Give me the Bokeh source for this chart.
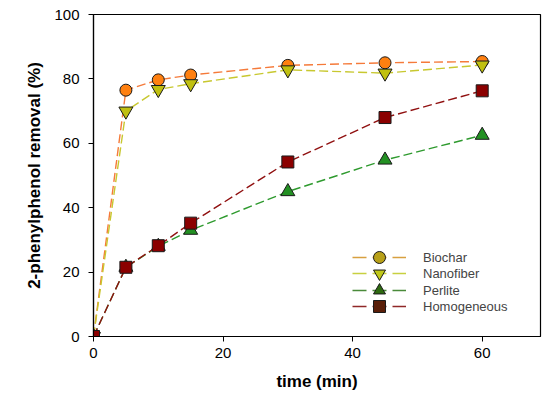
from bokeh.plotting import figure
from bokeh.models import Range1d, FixedTicker, Legend, LegendItem
from bokeh.embed import file_html
from bokeh.resources import INLINE

time = [0, 5, 10, 15, 30, 45, 60]
biochar = [0, 76.5, 79.7, 81.2, 84.2, 85.0, 85.4]
nanofiber = [0, 70.0, 76.7, 78.5, 82.8, 81.8, 84.3]
perlite = [0, 21.5, 28.0, 33.0, 45.0, 54.8, 62.5]
homogeneous = [0, 21.5, 28.2, 35.2, 54.2, 68.0, 76.3]
labels = ["Biochar", "Nanofiber", "Perlite", "Homogeneous"]
x_ticks = [0, 20, 40, 60]
y_ticks = [0, 20, 40, 60, 80, 100]

FONT = "Liberation Sans"
NAN = float("nan")

p = figure(width=548, height=396, output_backend="svg", toolbar_location=None,
           x_range=Range1d(0, 69), y_range=Range1d(0, 100),
           min_border_left=93, min_border_right=8, min_border_top=14, min_border_bottom=60)
p.grid.visible = False
p.outline_line_color = "black"
p.outline_line_width = 1.2

for ax in (p.xaxis[0], p.yaxis[0]):
    ax.axis_line_color = "black"
    ax.axis_line_width = 1.2
    ax.major_tick_out = 5
    ax.major_tick_in = 0
    ax.minor_tick_out = 0
    ax.minor_tick_in = 0
    ax.major_label_text_font = FONT
    ax.major_label_text_font_size = "15px"
    ax.major_label_text_color = "black"
    ax.axis_label_text_font = FONT
    ax.axis_label_text_font_style = "bold"
    ax.axis_label_text_color = "black"

p.xaxis.ticker = FixedTicker(ticks=x_ticks)
p.yaxis.ticker = FixedTicker(ticks=y_ticks)
p.xaxis.axis_label = "time (min)"
p.yaxis.axis_label = "2-phenylphenol removal (%)"
p.xaxis.axis_label_text_font_size = "17px"
p.yaxis.axis_label_text_font_size = "17px"
p.xaxis.major_label_standoff = 6
p.yaxis.major_label_standoff = 9
p.xaxis.axis_label_standoff = 11
p.yaxis.axis_label_standoff = 7

series = [
    (biochar, "#F57A3A", "#FF8010", "circle", 12),
    (nanofiber, "#C8C830", "#C0C010", "inverted_triangle", 14),
    (perlite, "#2E9A2E", "#239023", "triangle", 14),
    (homogeneous, "#901010", "#8B0000", "square", 12),
]
for ys, lc, fc, mk, sz in series:
    p.line(time, ys, line_color=lc, line_width=1.4, line_dash="9 4")
    p.scatter(time, ys, marker=mk, size=sz, fill_color=fc, line_color="#1a1a1a", line_width=1)

legend_style = [
    ("#D8A040", "#B8A018", "circle"),
    ("#C8D040", "#C0C818", "inverted_triangle"),
    ("#4A8A3A", "#2E6A10", "triangle"),
    ("#902828", "#5A1E08", "square"),
]
legend_offsets = [64, 48, 31, 15]
for lab, (lc, fc, mk), off in zip(labels, legend_style, legend_offsets):
    r1 = p.line([NAN], [NAN], line_color=lc, line_width=1.4, line_dash="14 6")
    r2 = p.scatter([NAN], [NAN], marker=mk, size=12, fill_color=fc, line_color="#1a1a1a", line_width=1)
    lg = Legend(items=[LegendItem(label=lab, renderers=[r1, r2])], location=(259, off),
                background_fill_alpha=0, border_line_alpha=0, padding=0, margin=0, spacing=0,
                glyph_width=54, glyph_height=30, label_standoff=17,
                label_text_font=FONT, label_text_font_size="13px", label_height=16)
    p.add_layout(lg, "center")

open("out.html", "w").write(file_html(p, INLINE))
